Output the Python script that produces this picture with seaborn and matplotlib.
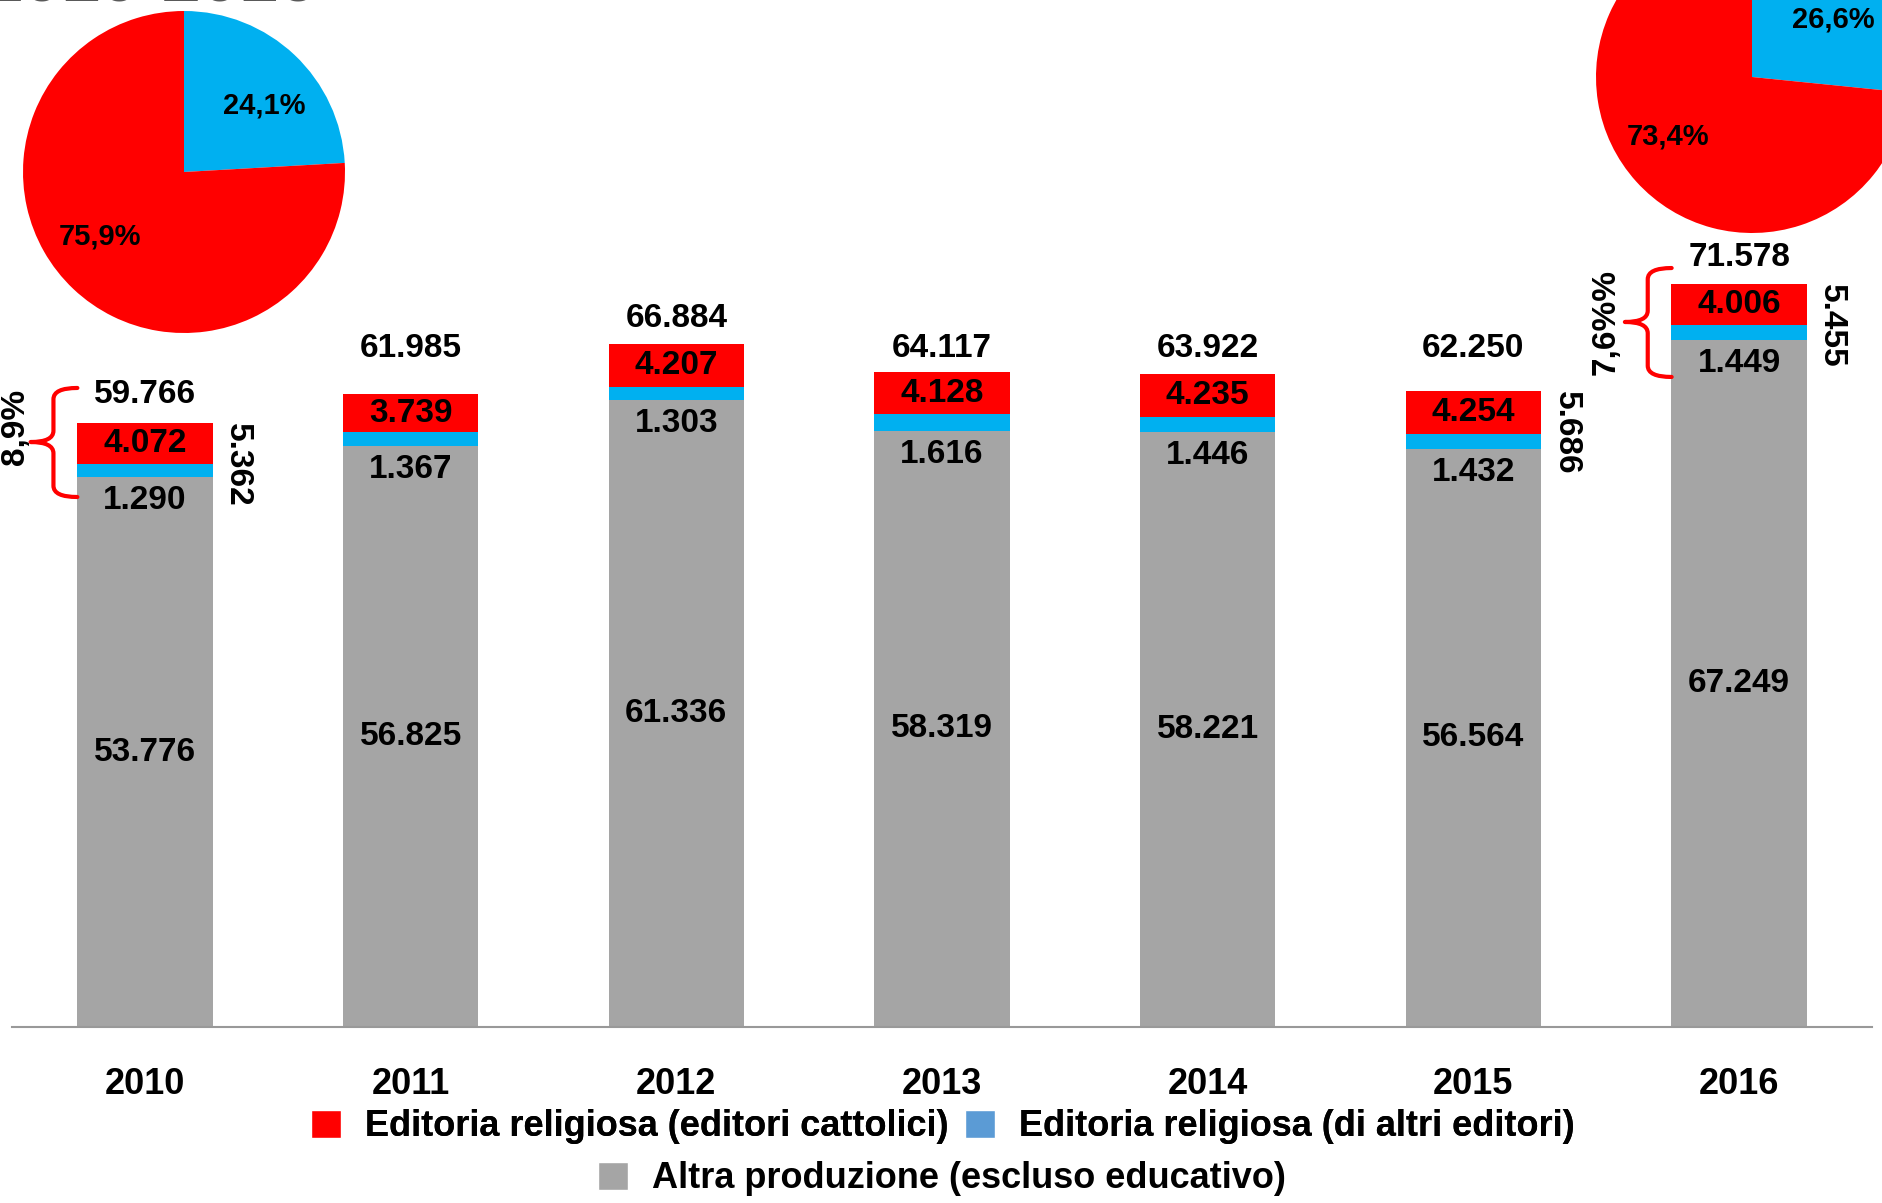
import matplotlib
matplotlib.use("Agg")
import matplotlib.pyplot as plt
import seaborn as sns
import pandas as pd
from matplotlib.patches import Patch, PathPatch
from matplotlib.path import Path

# ---------------- data ----------------
years = ["2010", "2011", "2012", "2013", "2014", "2015", "2016"]
cattolici = [4072, 3739, 4207, 4128, 4235, 4254, 4006]
altri_editori = [1290, 1367, 1303, 1616, 1446, 1432, 1449]
altra_produzione = [53776, 56825, 61336, 58319, 58221, 56564, 67249]
totali = [59766, 61985, 66884, 64117, 63922, 62250, 71578]

side_years = ["2010", "2015", "2016"]
side_values = [5362, 5686, 5455]
pct_years = ["2010", "2016"]
pct_labels = ["8,9%", "7,6%%"]

pie_2010 = [24.1, 75.9]
pie_2016 = [26.6, 73.4]

legend_labels = ["Editoria religiosa (editori cattolici)",
                 "Editoria religiosa (di altri editori)",
                 "Altra produzione (escluso educativo)"]
title_text = "2010-2016"

# ---------------- style / layout ----------------
RED = "#FF0000"
BLUE = "#00B0F0"
LEG_BLUE = "#5B9BD5"
GRAY = "#A5A5A5"
W, H = 1883, 1203

sns.set_theme(style="white")
plt.rcParams["font.family"] = ["Liberation Sans", "DejaVu Sans"]
plt.rcParams["font.weight"] = "bold"
plt.rcParams["text.color"] = "black"
plt.rcParams["xtick.color"] = "black"
plt.rcParams["axes.labelcolor"] = "black"

total_gap = [2750, 4500, 2450, 2350, 2450, 4100, 2550]   # label offset above bar
pct_offset = [(-0.485, -430), (-0.50, -3720)]
bracket_offsets = [(3390, -1900, -7280), (1560, -3720, -9100)]  # top, tip, bottom
pie_label_pos = [[(0.50, 0.41), (-0.52, -0.40)], [(0.52, 0.37), (-0.54, -0.38)]]

def fmt(v):
    return f"{v:,}".replace(",", ".")

fig = plt.figure(figsize=(W / 100, H / 100), dpi=100)
ax = fig.add_axes([12 / W, 1 - 1027 / H, 1860 / W, 1027 / H])

df = pd.DataFrame({"anno": years,
                   "catt": cattolici,
                   "altri": altri_editori,
                   "altra": altra_produzione})
df["s3"] = df["altra"] + df["altri"] + df["catt"]
df["s2"] = df["altra"] + df["altri"]

for col, c in [("s3", RED), ("s2", BLUE), ("altra", GRAY)]:
    sns.barplot(data=df, x="anno", y=col, color=c, saturation=1, width=0.51,
                errorbar=None, linewidth=0, edgecolor="none", ax=ax)

ax.set_xlim(-0.5, 6.5)
ax.set_ylim(0, 1027 / 0.01022)
ax.set_xlabel("")
ax.set_ylabel("")
ax.set_yticks([])
ax.set_xticks(range(len(years)))
ax.set_xticklabels(years, fontsize=26, fontweight="bold", color="black")
ax.tick_params(axis="x", length=0, pad=29)
for s in ["top", "left", "right"]:
    ax.spines[s].set_visible(False)
ax.spines["bottom"].set_color("#999999")
ax.spines["bottom"].set_linewidth(1.5)
ax.set_facecolor("none")

fs = 24
tk = dict(ha="center", va="center", fontsize=fs, fontweight="bold", color="black")
for i in range(len(years)):
    a, b, c = altra_produzione[i], altri_editori[i], cattolici[i]
    stack = a + b + c
    ax.text(i, a / 2, fmt(a), **tk)
    ax.text(i, a - 2300, fmt(b), **tk)
    ax.text(i, a + b + c / 2, fmt(c), **tk)
    ax.text(i, stack + total_gap[i], fmt(totali[i]), **tk)

for yr, v in zip(side_years, side_values):
    i = years.index(yr)
    stack = altra_produzione[i] + altri_editori[i] + cattolici[i]
    ax.text(i + 0.29, stack, fmt(v), rotation=270, ha="left", va="top",
            fontsize=fs, fontweight="bold", color="black")

for k, (yr, t) in enumerate(zip(pct_years, pct_labels)):
    i = years.index(yr)
    stack = altra_produzione[i] + altri_editori[i] + cattolici[i]
    dx, dy = pct_offset[k]
    ax.text(i + dx, stack + dy, t, rotation=90, ha="center", va="center",
            fontsize=fs, fontweight="bold", color="black")
    top_o, tip_o, bot_o = bracket_offsets[k]
    top, mid, bot = stack + top_o, stack + tip_o, stack + bot_o
    v, arm, tip = i - 0.344, i - 0.254, i - 0.43
    r = 1100
    verts = [(arm, top), (v, top), (v, top - r),
             (v, mid + r),
             (v, mid), (tip, mid),
             (v, mid), (v, mid - r),
             (v, bot + r),
             (v, bot), (arm, bot)]
    codes = [Path.MOVETO, Path.CURVE3, Path.CURVE3,
             Path.LINETO,
             Path.CURVE3, Path.CURVE3,
             Path.CURVE3, Path.CURVE3,
             Path.LINETO,
             Path.CURVE3, Path.CURVE3]
    ax.add_patch(PathPatch(Path(verts, codes), fill=False, edgecolor=RED, lw=3,
                           capstyle="round", joinstyle="round", clip_on=False))

# ---------------- pies ----------------
def draw_pie(cx, cy, r, vals, pos):
    pax = fig.add_axes([(cx - r) / W, 1 - (cy + r) / H, 2 * r / W, 2 * r / H])
    _, _, autotexts = pax.pie(vals, colors=[BLUE, RED], startangle=90, counterclock=False,
                              autopct=lambda p: f"{p:.1f}%".replace(".", ","),
                              pctdistance=0.66,
                              textprops=dict(fontsize=21, fontweight="bold", color="black"),
                              wedgeprops=dict(linewidth=0))
    for t, p in zip(autotexts, pos):
        t.set_position(p)
    pax.set_xlim(-1, 1)
    pax.set_ylim(-1, 1)
    pax.set_aspect("equal")
    pax.axis("off")

draw_pie(184, 172, 161, pie_2010, pie_label_pos[0])
draw_pie(1752, 77, 156, pie_2016, pie_label_pos[1])

# ---------------- title (cut off at top) ----------------
fig.text(-15 / W, 1 - 2 / H, title_text, fontsize=50, fontweight="bold",
         color="#595959", va="baseline", ha="left")

# ---------------- legend ----------------
lfs = 26
lp = dict(size=lfs, weight="bold")
h1 = [Patch(facecolor=RED), Patch(facecolor=LEG_BLUE)]
leg1 = fig.legend(h1, legend_labels[:2], loc="center", ncol=2, frameon=False, prop=lp,
                  bbox_to_anchor=(943 / W, 1 - 1127 / H), handlelength=0.83,
                  handleheight=0.83, handletextpad=0.67, columnspacing=0.44,
                  borderaxespad=0, borderpad=0, labelcolor="black")
h2 = [Patch(facecolor=GRAY)]
leg2 = fig.legend(h2, legend_labels[2:], loc="center", ncol=1, frameon=False, prop=lp,
                  bbox_to_anchor=(942 / W, 1 - 1179 / H), handlelength=0.83,
                  handleheight=0.83, handletextpad=0.67, borderaxespad=0, borderpad=0,
                  labelcolor="black")
fig.add_artist(leg1)

fig.savefig("out.png", dpi=100)
